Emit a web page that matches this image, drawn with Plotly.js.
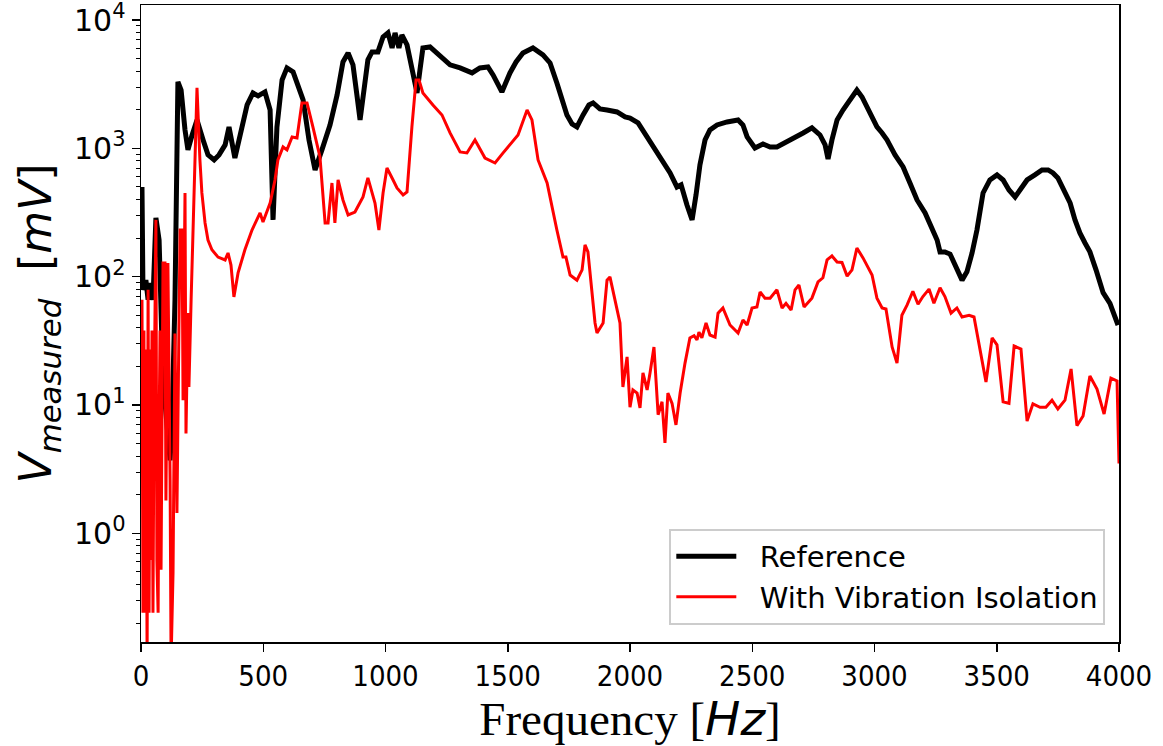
<!DOCTYPE html>
<html>
<head>
<meta charset="utf-8">
<script src="https://cdn.plot.ly/plotly-3.0.1.min.js"></script>
<style>html,body{margin:0;padding:0;background:#fff}#chart{width:1163px;height:746px}</style>
</head>
<body>
<div id="chart"></div>
<script>
// Reference measurement (black)
const refFreq = [4,8,20,29,37,49,61,74,90,106,119,127,139,151,164,180,192,209,229,254,274,299,319,344,360,384,413,434,458,479,507,528,540,556,577,597,622,642,663,687,712,740,773,802,826,847,867,883,896,912,928,945,969,990,1010,1027,1039,1055,1067,1088,1108,1129,1141,1153,1182,1211,1235,1264,1305,1354,1386,1419,1440,1476,1509,1534,1562,1603,1644,1673,1701,1722,1742,1763,1783,1808,1832,1849,1877,1906,1947,1980,2000,2033,2070,2102,2131,2164,2192,2209,2233,2254,2270,2286,2307,2327,2356,2397,2442,2462,2479,2511,2544,2573,2601,2634,2675,2708,2744,2777,2798,2810,2826,2847,2871,2900,2928,2949,2969,2990,3010,3031,3051,3084,3117,3145,3174,3207,3239,3256,3268,3288,3309,3333,3358,3378,3399,3419,3444,3472,3501,3526,3550,3575,3595,3624,3656,3685,3710,3730,3750,3775,3800,3820,3840,3861,3881,3906,3935,3963,3980,3996];
const refV = [500,79,94,66,89,66,287,193,15.7,6.4,3.7,7.6,66,3300,2850,1390,972,1270,1665,1163,889,812,889,1063,1468,841,1468,2180,2700,2560,2750,1990,277,1468,3410,4235,3940,3120,2385,1163,679,972,1521,2608,4710,5540,4470,2608,1665,2850,4890,5640,5640,7380,7930,6060,7930,6060,7650,6400,4085,2700,4085,6060,6170,5540,5070,4470,4235,3870,4235,4310,3730,2750,3870,4710,5540,6060,5350,4630,3235,2385,1820,1550,1468,1820,2180,2260,2030,1990,1920,1757,1720,1578,1227,1007,812,643,500,520,362,277,433,743,1163,1390,1521,1606,1665,1521,1227,1007,1082,1025,1025,1102,1205,1318,1443,1271,1063,827,1163,1665,1990,2385,2850,2515,2100,1720,1468,1318,1163,889,716,537,396,314,231,193,156,156,150,117,94,109,153,231,449,567,621,567,474,418,474,567,621,679,679,643,588,474,375,277,219,183,156,113,75,62,52,42];

// With vibration isolation (red)
const isoFreq = [4,8,12,16,20,25,29,33,37,41,45,49,53,61,65,70,74,78,82,90,98,102,110,119,123,131,139,147,155,160,168,172,180,184,192,196,205,217,229,241,249,262,274,290,315,344,356,368,380,397,425,454,487,499,528,548,560,581,597,618,638,658,679,703,732,753,765,781,793,806,826,847,875,908,928,957,973,990,1006,1031,1047,1072,1088,1108,1125,1137,1153,1194,1231,1264,1305,1333,1366,1407,1448,1481,1509,1542,1579,1599,1624,1661,1701,1726,1738,1755,1783,1804,1816,1828,1857,1865,1890,1906,1918,1959,1971,1988,2000,2012,2029,2041,2053,2070,2082,2098,2115,2131,2143,2155,2172,2188,2205,2225,2245,2262,2274,2282,2294,2311,2327,2348,2360,2380,2409,2442,2462,2479,2499,2519,2532,2552,2573,2601,2622,2638,2659,2675,2691,2712,2744,2769,2789,2806,2826,2847,2867,2888,2908,2928,2953,2969,2990,3010,3031,3047,3072,3092,3112,3133,3157,3178,3198,3223,3243,3268,3288,3313,3337,3358,3387,3407,3431,3456,3481,3501,3526,3550,3571,3599,3624,3648,3677,3701,3726,3750,3779,3804,3828,3853,3881,3910,3939,3967,3992,4000];
const isoV = [66,0.24,38,0.24,27,0.1,79,0.24,27,0.62,38,0.24,7.6,277,0.62,0.24,6.4,38,0.52,128,128,1.8,128,2.6,0.1,0.49,36,1.44,38,231,231,10.9,449,6.0,52,13.8,66,567,2960,812,449,262,193,162,142,135,153,123,69.5,107,162,231,314,267,375,567,812,1025,972,1227,1205,2260,2260,1468,857,262,262,537,262,567,396,303,319,418,588,375,231,449,703,567,491,433,457,1468,3410,3410,2700,2180,1820,1318,937,921,1163,841,769,921,1063,1271,1990,1665,812,537,231,142,142,103,94,113,177,156,43.6,36.4,43.6,94,99.5,43.6,13.8,23.7,9.6,13.1,12.4,9.5,17.8,13.1,17.8,28.3,8.4,10.6,5.06,12.4,10.3,7.0,12.4,21.2,33.3,34.7,32.1,37,33.3,43.6,35.1,33.8,52,57,42,36.4,46,42,57,58,76,68,68,79,57,62,55,79,86,58,68,91,98,135,145,130,129,101,113,167,140,123,103,68,57,56,28.3,21.2,50,60,77,61,70,80,62,82,70,52,57,48.5,50,48.5,28.3,15.1,33.3,29.4,10.6,10.3,28.8,27.3,7.5,10.2,9.6,9.6,10.9,9.3,10.9,19.1,6.9,8.2,16.8,13.3,8.5,16.2,15.4,3.5];

const seriesNames = ['Reference', 'With Vibration Isolation'];
const yTickVals = [1,10,100,1000,10000];
const yTickText = ['10<sup>0</sup>','10<sup>1</sup>','10<sup>2</sup>','10<sup>3</sup>','10<sup>4</sup>'];
const xTickVals = [0,500,1000,1500,2000,2500,3000,3500,4000];
const xTickText = ['0','500','1000','1500','2000','2500','3000','3500','4000'];

const minorVals = [];
[0.1,1,10,100,1000,10000].forEach(d => { for (let k = 2; k <= 9; k++) minorVals.push(d*k); });

const gap = '\u00a0\u00a0';
const traces = [
  {x: refFreq, y: refV, type: 'scatter', mode: 'lines', name: gap + seriesNames[0],
   line: {color: '#000000', width: 5}},
  {x: isoFreq, y: isoV, type: 'scatter', mode: 'lines', name: gap + seriesNames[1],
   line: {color: '#ff0000', width: 3}}
];

const layout = {
  width: 1163, height: 746,
  margin: {l: 141, r: 44, t: 5, b: 104, pad: 0},
  paper_bgcolor: '#ffffff', plot_bgcolor: '#ffffff',
  showlegend: true,
  xaxis: {
    range: [0, 4000], showgrid: false, zeroline: false,
    showline: true, mirror: true, linecolor: '#000', linewidth: 1.5,
    ticks: 'outside', ticklen: 8, tickwidth: 1.5, tickcolor: '#000',
    tickmode: 'array', tickvals: xTickVals, ticktext: xTickText,
    tickfont: {family: '"Liberation Sans Narrow", "DejaVu Sans Condensed", "DejaVu Sans", sans-serif', size: 29, color: '#000'},
    title: {text: 'Frequency [<span style="font-family:DejaVu Sans"><i>Hz</i></span>]',
            font: {family: '"Liberation Serif", "DejaVu Serif", serif', size: 47, color: '#000'}, standoff: 6}
  },
  yaxis: {
    type: 'log', range: [-0.847, 4.117], showgrid: false, zeroline: false,
    showline: true, mirror: true, linecolor: '#000', linewidth: 1.5,
    ticks: 'outside', ticklen: 8, tickwidth: 1.5, tickcolor: '#000',
    tickmode: 'array', tickvals: yTickVals, ticktext: yTickText,
    ticklabeloverflow: 'allow',
    tickfont: {family: '"DejaVu Sans", sans-serif', size: 30, color: '#000'},
    minor: {tickmode: 'array', tickvals: minorVals, ticks: 'outside', ticklen: 4, tickwidth: 1, tickcolor: '#000', showgrid: false},
    title: {text: '<i>V</i><sub><i>measured</i></sub>  [<i>mV</i>]',
            font: {family: '"DejaVu Sans", sans-serif', size: 44, color: '#000'}, standoff: 8}
  },
  legend: {
    x: 0.986, y: 0.027, xanchor: 'right', yanchor: 'bottom',
    bgcolor: 'rgba(255,255,255,0.9)', bordercolor: '#cccccc', borderwidth: 2,
    font: {family: '"DejaVu Sans", sans-serif', size: 29, color: '#000'},
    tracegroupgap: 4, itemwidth: 60
  }
};

Plotly.newPlot('chart', traces, layout, {displayModeBar: false, staticPlot: true});
</script>
</body>
</html>
